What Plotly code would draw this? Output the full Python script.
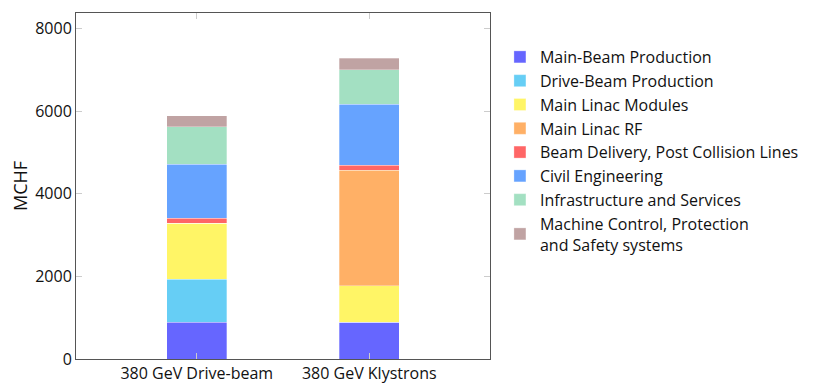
import plotly.graph_objects as go

# CLIC 380 GeV cost breakdown (MCHF)
categories = ["380 GeV Drive-beam", "380 GeV Klystrons"]
main_beam = [890, 890]
drive_beam = [1045, 0]
main_linac_modules = [1355, 890]
main_linac_rf = [0, 2790]
beam_delivery = [120, 120]
civil_engineering = [1310, 1475]
infrastructure = [910, 840]
machine_control = [260, 275]

series = [
    ("Main-Beam Production", main_beam, "rgb(102,102,255)"),
    ("Drive-Beam Production", drive_beam, "rgb(102,206,245)"),
    ("Main Linac Modules", main_linac_modules, "rgb(255,245,102)"),
    ("Main Linac RF", main_linac_rf, "rgb(255,176,102)"),
    ("Beam Delivery, Post Collision Lines", beam_delivery, "rgb(255,102,102)"),
    ("Civil Engineering", civil_engineering, "rgb(102,163,255)"),
    ("Infrastructure and Services", infrastructure, "rgb(163,224,194)"),
    ("Machine Control, Protection<br>and Safety systems", machine_control, "rgb(192,163,163)"),
]

fig = go.Figure()
for name, vals, color in series:
    fig.add_trace(go.Bar(
        x=categories,
        y=vals,
        name=name,
        width=0.35,
        marker=dict(color=color, line=dict(width=0.6, color="rgba(255,255,255,0.5)")),
    ))

# page body has an 8px default margin, so the figure is sized/shifted for that
fig.update_layout(
    barmode="stack",
    width=822,
    height=384,
    template="plotly_white",
    plot_bgcolor="white",
    paper_bgcolor="white",
    font=dict(family="Open Sans", size=16, color="#111"),
    margin=dict(l=68, r=340, t=5, b=33),
    legend=dict(
        traceorder="normal",
        x=1.024, xanchor="left",
        y=0.922, yanchor="top",
        bgcolor="rgba(0,0,0,0)",
        borderwidth=0,
        font=dict(size=16),
        itemwidth=30,
    ),
    xaxis=dict(
        type="category",
        range=[-0.7, 1.7],
        automargin=False,
        showgrid=False,
        showline=True, linecolor="#555", linewidth=1,
        mirror="allticks",
        ticks="inside", ticklen=6, tickcolor="#ccc",
        tickfont=dict(size=16),
        zeroline=False,
    ),
    yaxis=dict(
        range=[0, 8380],
        tickvals=[0, 2000, 4000, 6000, 8000],
        automargin=False,
        showgrid=False,
        showline=True, linecolor="#555", linewidth=1,
        mirror="allticks",
        ticks="inside", ticklen=6, tickcolor="#ccc",
        tickfont=dict(size=16),
        title=dict(text="MCHF", font=dict(size=18), standoff=20),
        zeroline=False,
    ),
)

fig.write_html("out.html")
